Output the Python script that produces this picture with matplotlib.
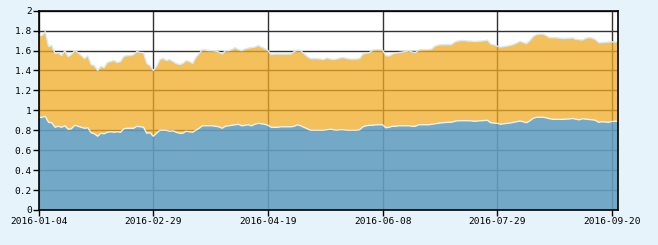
import matplotlib
matplotlib.use("Agg")
import matplotlib.pyplot as plt
from matplotlib.colors import to_rgba
import numpy as np

# valores (178 dias de cotizacion, 2016-01-04 .. 2016-09-22)
serie_azul = [
    0.93, 0.93, 0.94, 0.88, 0.875, 0.83, 0.84, 0.83, 0.845, 0.81,
    0.815, 0.85, 0.84, 0.83, 0.82, 0.825, 0.775, 0.765, 0.74, 0.77,
    0.765, 0.78, 0.785, 0.78, 0.785, 0.78, 0.815, 0.82, 0.82, 0.82,
    0.84, 0.835, 0.83, 0.77, 0.775, 0.74, 0.77, 0.80, 0.80, 0.80,
    0.79, 0.795, 0.78, 0.77, 0.77, 0.79, 0.785, 0.78, 0.80, 0.82,
    0.845, 0.845, 0.845, 0.845, 0.84, 0.835, 0.82, 0.84, 0.845, 0.85,
    0.855, 0.86, 0.845, 0.85, 0.855, 0.845, 0.86, 0.87, 0.865, 0.86,
    0.85, 0.83, 0.83, 0.83, 0.835, 0.835, 0.835, 0.835, 0.84, 0.855,
    0.845, 0.83, 0.815, 0.80, 0.80, 0.80, 0.80, 0.80, 0.805, 0.81,
    0.805, 0.80, 0.805, 0.805, 0.80, 0.80, 0.80, 0.80, 0.805, 0.835,
    0.845, 0.85, 0.85, 0.855, 0.855, 0.855, 0.825, 0.83, 0.84, 0.84,
    0.845, 0.845, 0.845, 0.845, 0.84, 0.84, 0.855, 0.855, 0.855, 0.855,
    0.86, 0.865, 0.87, 0.875, 0.878, 0.88, 0.88, 0.89, 0.895, 0.896,
    0.896, 0.896, 0.895, 0.89, 0.893, 0.895, 0.898, 0.90, 0.876, 0.872,
    0.87, 0.86, 0.865, 0.87, 0.873, 0.88, 0.886, 0.893, 0.885, 0.876,
    0.895, 0.92, 0.93, 0.93, 0.93, 0.925, 0.915, 0.91, 0.91, 0.91,
    0.91, 0.912, 0.913, 0.918, 0.912, 0.905, 0.915, 0.912, 0.91, 0.905,
    0.90, 0.88, 0.885, 0.883, 0.88, 0.888, 0.89, 0.89,
]
serie_naranja = [
    0.83, 0.82, 0.85, 0.76, 0.775, 0.74, 0.74, 0.72, 0.755, 0.73,
    0.745, 0.75, 0.74, 0.72, 0.70, 0.725, 0.685, 0.685, 0.66, 0.67,
    0.665, 0.70, 0.705, 0.72, 0.695, 0.71, 0.725, 0.73, 0.73, 0.74,
    0.75, 0.745, 0.75, 0.70, 0.675, 0.66, 0.67, 0.71, 0.72, 0.70,
    0.72, 0.695, 0.69, 0.69, 0.70, 0.71, 0.705, 0.69, 0.73, 0.75,
    0.765, 0.76, 0.755, 0.755, 0.755, 0.75, 0.745, 0.76, 0.755, 0.76,
    0.775, 0.75, 0.755, 0.765, 0.77, 0.785, 0.775, 0.78, 0.77, 0.76,
    0.75, 0.73, 0.735, 0.735, 0.73, 0.73, 0.73, 0.73, 0.75, 0.75,
    0.755, 0.74, 0.725, 0.72, 0.72, 0.72, 0.715, 0.71, 0.72, 0.705,
    0.705, 0.715, 0.72, 0.725, 0.72, 0.715, 0.715, 0.715, 0.715, 0.73,
    0.73, 0.73, 0.755, 0.755, 0.755, 0.75, 0.725, 0.715, 0.725, 0.735,
    0.735, 0.74, 0.745, 0.755, 0.745, 0.74, 0.75, 0.755, 0.755, 0.755,
    0.755, 0.78, 0.785, 0.785, 0.78, 0.78, 0.78, 0.795, 0.80, 0.805,
    0.805, 0.80, 0.80, 0.80, 0.80, 0.80, 0.80, 0.805, 0.79, 0.785,
    0.775, 0.775, 0.775, 0.775, 0.78, 0.78, 0.79, 0.80, 0.795, 0.795,
    0.805, 0.82, 0.83, 0.835, 0.835, 0.825, 0.815, 0.82, 0.82, 0.815,
    0.81, 0.81, 0.81, 0.81, 0.80, 0.805, 0.79, 0.81, 0.82, 0.82,
    0.81, 0.80, 0.795, 0.80, 0.805, 0.80, 0.795, 0.80,
]
etiquetas_x = ["2016-01-04", "2016-02-29", "2016-04-19",
               "2016-06-08", "2016-07-29", "2016-09-20"]
paso_etiquetas = 35

plt.rcParams['font.family'] = ['DejaVu Sans Mono']

fondo = "#e7f3fb"
fig = plt.figure(figsize=(6.58, 2.45), dpi=100, facecolor=fondo)
ax = fig.add_axes([0.0588, 0.1429, 0.881, 0.8134])
ax.set_facecolor("white")

x = np.arange(len(serie_azul))
ax.stackplot(x, serie_azul, serie_naranja,
             colors=[to_rgba("#649fc0", 0.9), to_rgba("#f0ab25", 0.75)],
             zorder=2)
azul = np.array(serie_azul)
total = azul + np.array(serie_naranja)
ax.plot(x, azul, color="white", lw=1, alpha=0.8, zorder=3)
ax.plot(x, total, color="#d6ebf7", lw=1, zorder=3)

ax.set_xlim(0, len(serie_azul) - 1)
ax.set_ylim(0, 2)
ax.set_yticks(np.arange(0, 2.01, 0.2))
ax.set_yticklabels(["%g" % v for v in np.arange(0, 2.01, 0.2).round(1)])
ax.set_xticks(x[::paso_etiquetas])
ax.set_xticklabels(etiquetas_x)

ax.grid(True, color="#333333", lw=1, zorder=1)
ax.set_axisbelow(True)
for s in ax.spines.values():
    s.set_color("black")
    s.set_linewidth(1.2)
    s.set_zorder(4)
ax.tick_params(direction="out", length=4, width=1, colors="black",
               labelsize=6.8, pad=1)

plt.savefig("out.png", dpi=100, facecolor=fondo)
plt.close()
